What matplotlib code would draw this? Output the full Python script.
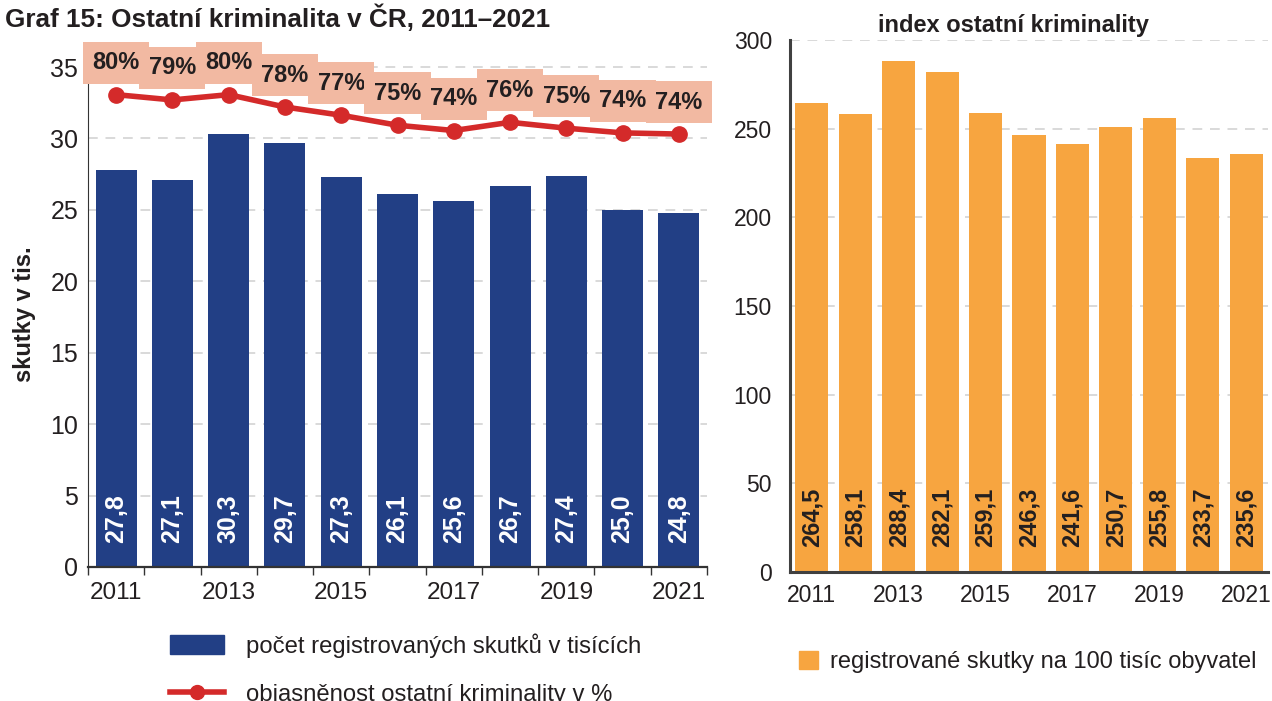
import numpy as np
import matplotlib.pyplot as plt
from matplotlib.lines import Line2D
from matplotlib.patches import Patch

# data
years = [2011, 2012, 2013, 2014, 2015, 2016, 2017, 2018, 2019, 2020, 2021]
skutky_tis = [27.8, 27.1, 30.3, 29.7, 27.3, 26.1, 25.6, 26.7, 27.4, 25.0, 24.8]
objasnenost = [80.3, 79.4, 80.3, 78.2, 76.8, 75.1, 74.2, 75.6, 74.6, 73.8, 73.6]
index_100tis = [264.5, 258.1, 288.4, 282.1, 259.1, 246.3, 241.6, 250.7, 255.8, 233.7, 235.6]

BLUE = '#223f85'
RED = '#d42a2a'
ORANGE = '#f7a540'
SALMON = '#f2b9a2'
DARK = '#231f20'
GRID = '#d9d9d9'

NARROW = ['Liberation Sans Narrow', 'Liberation Sans', 'DejaVu Sans']
plt.rcParams['font.family'] = ['Liberation Sans', 'DejaVu Sans']

W, H = 1272, 701
fig = plt.figure(figsize=(W / 100, H / 100), dpi=100)

def px_axes(x0, y0, x1, y1):
    return fig.add_axes([x0 / W, 1 - y1 / H, (x1 - x0) / W, (y1 - y0) / H])

x = np.arange(len(years))
fmt = lambda v: f'{v:.1f}'.replace('.', ',')

# ---------- left panel ----------
ax = px_axes(88, 62, 707, 567)
ax.bar(x, skutky_tis, width=0.73, color=BLUE, zorder=2)
ax.set_xlim(-0.5, len(years) - 0.5)
ax.set_ylim(0, 35.35)
ax.set_yticks(range(0, 36, 5))
ax.yaxis.grid(True, color=GRID, linestyle=(0, (5, 4)), linewidth=1.4, zorder=0)
for s in ['top', 'right']:
    ax.spines[s].set_visible(False)
ax.spines['left'].set_bounds(0, 34)
ax.spines['left'].set_color('#333333')
ax.spines['bottom'].set_color('#333333')
ax.spines['bottom'].set_linewidth(1.6)
ax.set_xticks(x[::2])
ax.set_xticklabels([str(y) for y in years[::2]], family=NARROW)
ax.set_xticks(np.arange(-0.5, len(years), 1), minor=True)
ax.tick_params(axis='x', which='major', length=0, pad=11, labelsize=17.5, colors=DARK)
ax.tick_params(axis='x', which='minor', length=6, width=1, color='#333333')
ax.tick_params(axis='y', length=0, pad=7, labelsize=18, colors=DARK)
for lab in ax.get_yticklabels():
    lab.set_family(NARROW)
ax.set_ylabel('skutky v tis.', fontsize=17, fontweight='bold', family=NARROW,
              color=DARK, labelpad=10)
for xi, v in zip(x, skutky_tis):
    ax.text(xi, 1.7, fmt(v), rotation=90, ha='center', va='bottom', color='white',
            fontsize=18, fontweight='bold', family=NARROW, zorder=3)

ax2 = ax.twinx()
ax2.set_ylim(0, 85 * 35.35 / 35)
ax2.axis('off')
ax2.plot(x, objasnenost, color=RED, linewidth=4, marker='o', markersize=11, zorder=4)
for xi, v in zip(x, objasnenost):
    ax2.annotate(f'{v:.0f}%', (xi, v), xytext=(0, 23), textcoords='offset points',
                 ha='center', va='center', fontsize=17, fontweight='bold', family=NARROW,
                 color=DARK, annotation_clip=False,
                 bbox=dict(boxstyle='square,pad=0.4', fc=SALMON, ec='none'))

fig.text(5 / W, 1 - 18 / H, 'Graf 15: Ostatní kriminalita v ČR, 2011–2021', fontsize=18.8,
         fontweight='bold', family=NARROW, color=DARK, va='center', ha='left')

leg = fig.legend(handles=[Patch(color=BLUE), Line2D([], [], color=RED, linewidth=4, marker='o', markersize=10)],
                 labels=['počet registrovaných skutků v tisících', 'objasněnost ostatní kriminality v %'],
                 loc='upper left', bbox_to_anchor=(148 / W, 1 - 612 / H), frameon=False,
                 handlelength=2.3, handleheight=0.85, handletextpad=0.9, labelspacing=1.05,
                 prop={'family': NARROW, 'size': 17.2})
for t in leg.get_texts():
    t.set_color(DARK)

# ---------- right panel ----------
bx = px_axes(790, 40, 1268, 572)
bx.bar(x, index_100tis, width=0.76, color=ORANGE, zorder=2)
bx.set_xlim(-0.5, len(years) - 0.5)
bx.set_ylim(0, 300)
bx.set_yticks(range(0, 301, 50))
bx.yaxis.grid(True, color=GRID, linestyle=(0, (5, 4)), linewidth=1.4, zorder=0)
for s in ['top', 'right']:
    bx.spines[s].set_visible(False)
bx.spines['left'].set_color('#404040')
bx.spines['left'].set_linewidth(2.2)
bx.spines['bottom'].set_color('#404040')
bx.spines['bottom'].set_linewidth(2.2)
bx.set_xticks(x[::2])
bx.set_xticklabels([str(y) for y in years[::2]])
bx.tick_params(axis='x', length=0, pad=9, labelsize=16.5, colors=DARK)
bx.tick_params(axis='y', length=0, pad=13, labelsize=16.5, colors=DARK)
for xi, v in zip(x, index_100tis):
    bx.text(xi, 14, fmt(v), rotation=90, ha='center', va='bottom', color=DARK,
            fontsize=17, fontweight='bold', zorder=3)
bx.set_title('index ostatní kriminality', fontsize=17, fontweight='bold', color=DARK,
             pad=6, x=0.467)

fig.legend(handles=[Patch(color=ORANGE)], labels=['registrované skutky na 100 tisíc obyvatel'],
           loc='upper left', bbox_to_anchor=(778 / W, 1 - 630 / H), frameon=False,
           handlelength=0.8, handleheight=0.8, handletextpad=0.5,
           prop={'size': 17}, labelcolor=DARK)

fig.savefig('out.png', dpi=100)
